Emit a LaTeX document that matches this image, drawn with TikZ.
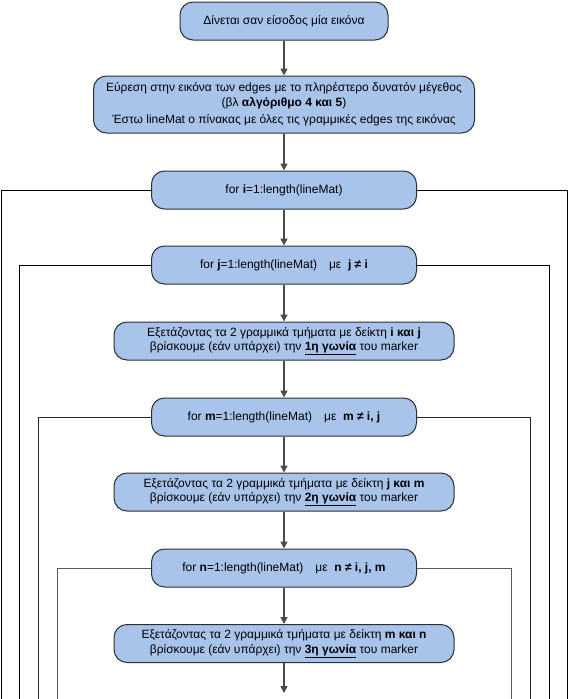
\documentclass[tikz,border=0pt]{standalone}
\usepackage{fontspec}
\setmainfont{Liberation Sans}
\usetikzlibrary{arrows.meta}
\definecolor{boxfill}{RGB}{169,196,235}
\definecolor{boxdraw}{RGB}{45,45,50}
\definecolor{arrowgray}{RGB}{75,75,75}
\tikzset{
  flowbox/.style={draw=boxdraw, fill=boxfill, line width=1pt, rounded corners=13pt,
    align=center, inner sep=0pt, font=\fontsize{12}{14.5}\selectfont},
  forbox/.style={flowbox, minimum width=265pt, minimum height=38pt},
  textbox/.style={flowbox, minimum width=340pt, minimum height=38pt},
  flowarrow/.style={draw=arrowgray, line width=1.5pt, -{Triangle[length=7pt,width=7pt]}},
  loopline/.style={line width=1pt},
}
\begin{document}
\begin{tikzpicture}[x=1pt,y=1pt]
\useasboundingbox (0,0) rectangle (568,-699);
\node[flowbox, minimum width=208pt, minimum height=38pt] (b1) at (284,-21) {Δίνεται σαν είσοδος μία εικόνα};
\node[flowbox, minimum width=381pt, minimum height=57pt] (b2) at (284,-104.5) {Εύρεση στην εικόνα των edges με το πληρέστερο δυνατόν μέγεθος\\(βλ \textbf{αλγόριθμο 4 και 5})\\[3pt]Έστω lineMat ο πίνακας με όλες τις γραμμικές edges της εικόνας};
\node[forbox] (fi) at (284,-190) {for \textbf{i}=1:length(lineMat)};
\node[forbox] (fj) at (284,-265) {for \textbf{j}=1:length(lineMat)\quad με \ \textbf{j ≠ i}};
\node[textbox] (c1) at (284,-341) {Εξετάζοντας τα 2 γραμμικά τμήματα με δείκτη \textbf{i και j}\\βρίσκουμε (εάν υπάρχει) την \underline{\textbf{1η γωνία}} του marker};
\node[forbox] (fm) at (284,-417) {for \textbf{m}=1:length(lineMat)\quad με \ \textbf{m ≠ i, j}};
\node[textbox] (c2) at (284,-492) {Εξετάζοντας τα 2 γραμμικά τμήματα με δείκτη \textbf{j και m}\\βρίσκουμε (εάν υπάρχει) την \underline{\textbf{2η γωνία}} του marker};
\node[forbox] (fn) at (284,-568) {for \textbf{n}=1:length(lineMat)\quad με \ \textbf{n ≠ i, j, m}};
\node[textbox] (c3) at (284,-643.5) {Εξετάζοντας τα 2 γραμμικά τμήματα με δείκτη \textbf{m και n}\\βρίσκουμε (εάν υπάρχει) την \underline{\textbf{3η γωνία}} του marker};
\coordinate (endc) at (284,-693);
% arrows
\draw[flowarrow] (b1) -- (b2);
\draw[flowarrow] (b2) -- (fi);
\draw[flowarrow] (fi) -- (fj);
\draw[flowarrow] (fj) -- (c1);
\draw[flowarrow] (c1) -- (fm);
\draw[flowarrow] (fm) -- (c2);
\draw[flowarrow] (c2) -- (fn);
\draw[flowarrow] (fn) -- (c3);
\draw[flowarrow] (c3) -- (endc);
% loop lines
\coordinate (iL) at (1,-699); \coordinate (iR) at (567,-699);
\coordinate (jL) at (19,-699); \coordinate (jR) at (549,-699);
\coordinate (mL) at (38,-699); \coordinate (mR) at (530,-699);
\coordinate (nL) at (57,-699); \coordinate (nR) at (511,-699);
\draw[loopline, black] (fi.west) -| (iL);
\draw[loopline, black] (fi.east) -| (iR);
\draw[loopline, black] (fj.west) -| (jL);
\draw[loopline, black] (fj.east) -| (jR);
\draw[loopline, black!85] (fm.west) -| (mL);
\draw[loopline, black!85] (fm.east) -| (mR);
\draw[loopline, black!65] (fn.west) -| (nL);
\draw[loopline, black!65] (fn.east) -| (nR);
\end{tikzpicture}
\end{document}
